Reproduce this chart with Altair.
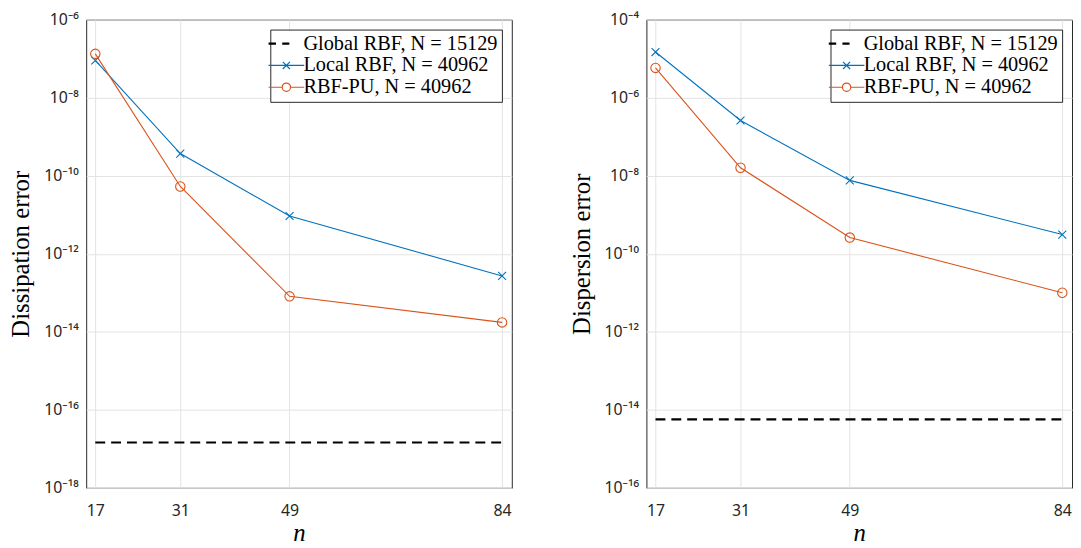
import math
import altair as alt
import pandas as pd

# ---------------- data ----------------
n_vals = [17, 31, 49, 84]
series_names = ["Global RBF, N = 15129", "Local RBF, N = 40962", "RBF-PU, N = 40962"]
series_colors = ["#000000", "#0072BD", "#D95319"]

# left panel: dissipation error
diss_global = [1.45e-17, 1.45e-17, 1.45e-17, 1.45e-17]
diss_local = [9.0e-8, 3.7e-10, 9.3e-12, 2.7e-13]
diss_pu = [1.33e-7, 5.3e-11, 8.1e-14, 1.74e-14]

# right panel: dispersion error
disp_global = [5.7e-15, 5.7e-15, 5.7e-15, 5.7e-15]
disp_local = [1.48e-5, 2.6e-7, 7.6e-9, 3.1e-10]
disp_pu = [5.8e-6, 1.6e-8, 2.6e-10, 1.0e-11]

x_ticks = [17, 31, 49, 84]
x_domain = [15.5, 85.6]
diss_yticks = [1e-18, 1e-16, 1e-14, 1e-12, 1e-10, 1e-8, 1e-6]
diss_ylabels = ["10⁻¹⁸", "10⁻¹⁶", "10⁻¹⁴", "10⁻¹²", "10⁻¹⁰", "10⁻⁸", "10⁻⁶"]
disp_yticks = [1e-16, 1e-14, 1e-12, 1e-10, 1e-8, 1e-6, 1e-4]
disp_ylabels = ["10⁻¹⁶", "10⁻¹⁴", "10⁻¹²", "10⁻¹⁰", "10⁻⁸", "10⁻⁶", "10⁻⁴"]

# ---------------- styling ----------------
BLUE, ORANGE = series_colors[1], series_colors[2]
XMARK = "M-1,-1L1,1M-1,1L1,-1"
LEG_PATHS = [
    # two bold dashes
    "M-3,-0.1L-1.75,-0.1M-3,0.1L-1.75,0.1M-0.7,-0.1L0.5,-0.1M-0.7,0.1L0.5,0.1",
    # line with x marker
    "M-3,0L3,0M-0.6,-0.6L0.6,0.6M-0.6,0.6L0.6,-0.6",
    # line with open circle
    "M-3,0L-0.7,0M0.7,0A0.7,0.7 0 1,0 -0.7,0A0.7,0.7 0 1,0 0.7,0M0.7,0L3,0",
]
SANS = "Noto Sans"
SERIF = "Liberation Serif"


def label_expr(ticks, labels):
    parts = []
    for t, lab in zip(ticks, labels):
        e = round(math.log10(t))
        parts.append(f"round(log(datum.value)/LN10) == {e} ? '{lab}' : ")
    return "".join(parts) + "''"


def panel(g_vals, l_vals, p_vals, yticks, ylabels, ytitle):
    df = pd.DataFrame({
        "n": n_vals * 3,
        "err": g_vals + l_vals + p_vals,
        "series": [s for s in series_names for _ in n_vals],
    })
    base = alt.Chart(df)
    xenc = alt.X(
        "n:Q",
        scale=alt.Scale(domain=x_domain, nice=False, zero=False),
        axis=alt.Axis(values=x_ticks, title="n", format="d"),
    )
    yenc = alt.Y(
        "err:Q",
        scale=alt.Scale(type="log", domain=[yticks[0], yticks[-1]], nice=False),
        axis=alt.Axis(values=yticks, labelExpr=label_expr(yticks, ylabels), title=ytitle),
    )
    leg = alt.Legend(
        title=None, orient="top-right", offset=10, padding=4, rowPadding=1,
        symbolSize=144, symbolOffset=2, labelOffset=7, symbolStrokeWidth=1.2,
        labelFont=SERIF, labelFontSize=20.5, labelColor="black", labelLimit=400,
        strokeColor="#262626", fillColor="white", cornerRadius=0,
    )
    glob = base.transform_filter(alt.datum.series == series_names[0]).mark_line(
        color="black", strokeDash=[10, 6], strokeWidth=2.2).encode(x=xenc, y=yenc)
    loc_line = base.transform_filter(alt.datum.series == series_names[1]).mark_line(
        color=BLUE, strokeWidth=1.1).encode(x=xenc, y=yenc)
    loc_pts = base.transform_filter(alt.datum.series == series_names[1]).mark_point(
        shape=XMARK, color=BLUE, size=64, strokeWidth=1.1, filled=False, opacity=1).encode(x=xenc, y=yenc)
    pu_line = base.transform_filter(alt.datum.series == series_names[2]).mark_line(
        color=ORANGE, strokeWidth=1.1).encode(x=xenc, y=yenc)
    pu_pts = base.transform_filter(alt.datum.series == series_names[2]).mark_point(
        shape="circle", color=ORANGE, size=90, strokeWidth=1.1, filled=False, opacity=1).encode(x=xenc, y=yenc)
    legend_layer = base.transform_filter("false").mark_point(filled=False, opacity=1).encode(
        x=xenc, y=yenc,
        color=alt.Color("series:N", scale=alt.Scale(domain=series_names, range=series_colors), legend=leg),
        shape=alt.Shape("series:N", scale=alt.Scale(domain=series_names, range=LEG_PATHS), legend=leg),
    )
    return alt.layer(glob, loc_line, pu_line, loc_pts, pu_pts, legend_layer).properties(width=430, height=473)


left = panel(diss_global, diss_local, diss_pu, diss_yticks, diss_ylabels, "Dissipation error")
right = panel(disp_global, disp_local, disp_pu, disp_yticks, disp_ylabels, "Dispersion error")

chart = alt.hconcat(left, right, spacing=56).resolve_scale(
    x="independent", y="independent", color="independent", shape="independent"
).resolve_legend(
    color="independent", shape="independent"
).properties(
    padding={"left": 0, "top": 0, "right": 0, "bottom": 0}
).configure(
    background="white"
).configure_view(
    stroke="#262626", strokeWidth=1
).configure_axis(
    grid=True, gridColor="#e3e3e3", gridWidth=1, domain=False, ticks=False,
    labelFont=SANS, labelFontSize=16, labelColor="#262626",
    titleFont=SERIF, titleFontWeight="normal", titleColor="black",
).configure_axisX(
    labelPadding=15, titleFontSize=25, titleFontStyle="italic", titlePadding=2,
).configure_axisY(
    labelPadding=8, titleFontSize=25, titlePadding=10,
)

chart.save("out.html", embed_options={"renderer": "svg", "actions": False})
